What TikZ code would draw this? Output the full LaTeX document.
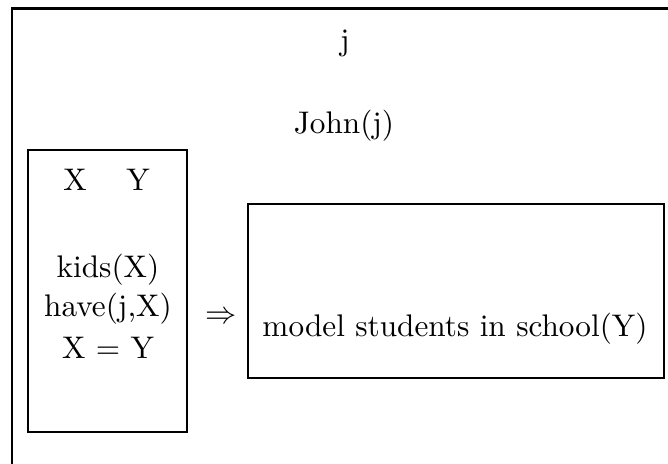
\documentclass[tikz,border=0pt]{standalone}
\usetikzlibrary{fit}
\begin{document}
\begin{tikzpicture}[x=0.32pt,y=-0.32pt,
  outerbox/.style={draw, line width=0.8pt, inner sep=0pt},
  drsbox/.style={draw, line width=0.75pt, inner sep=0pt},
  lbl/.style={anchor=base, inner sep=0pt}]
\useasboundingbox (0,0) rectangle (668,464);
\clip (0,0) rectangle (668,464);
\node[outerbox, fit={(12,8.5)(720,520)}] (drs) {};
\node[drsbox, fit={(28,150)(187,432)}] (ante) {};
\node[drsbox, fit={(248,204)(664,378)}] (cons) {};
\node[lbl] (j) at (345,50) {j};
\node[lbl] (john) at (344,133) {John(j)};
\node[lbl] (x) at (75,190) {X};
\node[lbl] (y) at (138,190) {Y};
\node[lbl] (kids) at (108,277) {kids(X)};
\node[lbl] (have) at (108,316) {have(j,X)};
\node[lbl] (eq) at (108,358) {X = Y};
\node[inner sep=0pt] (imp) at (221,318) {$\Rightarrow$};
\node[lbl] (model) at (455,336) {model students in school(Y)};
\end{tikzpicture}
\end{document}
